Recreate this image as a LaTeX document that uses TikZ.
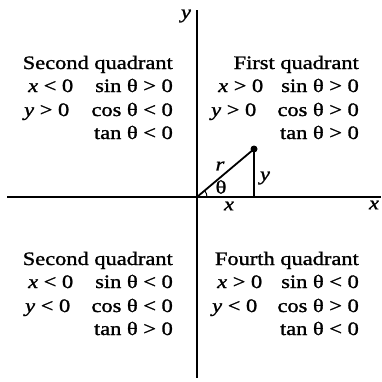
\documentclass[tikz,border=0pt]{standalone}
\usepackage{fontspec}
\setmainfont{Liberation Serif}[FakeBold=1.2,
  UprightFeatures={FakeBold=1.2}, ItalicFeatures={FakeBold=1.2}]
\usepackage{graphicx}
\newcommand{\qtxt}[1]{\scalebox{1.18}[1]{#1}}
\tikzset{
  lbl/.style={font=\fontsize{19}{19}\selectfont, inner sep=0pt},
  axis/.style={line width=2.8pt},
  tri/.style={line width=1.8pt},
}
\begin{document}
\begin{tikzpicture}[x=1pt,y=-1pt]
\useasboundingbox (0,0) rectangle (382,381);
% axes
\coordinate (xl) at (7,197);
\coordinate (xr) at (381,197);
\coordinate (yt) at (197,10);
\coordinate (yb) at (197,378);
\coordinate (O) at (197,197);
\draw[axis] (xl) -- (xr);
\draw[axis] (yt) -- (yb);
\node[lbl] (ylab) at (186,16) {\qtxt{\textit{y}}};
\node[lbl] (xlab) at (374,205) {\qtxt{\textit{x}}};
% triangle
\coordinate (P) at (254,149);
\coordinate (F) at (254,197);
\draw[tri] (O) -- (P) -- (F);
\fill (P) circle (3.5);
\draw[line width=1pt] ([shift={(10,0)}]O) arc[start angle=0, end angle=-40, radius=10];
\node[lbl] (rlab) at (220,166) {\qtxt{\textit{r}}};
\node[lbl] (thlab) at (221,187) {\qtxt{θ}};
\node[lbl] (ylab2) at (265,178) {\qtxt{\textit{y}}};
\node[lbl] (xlab2) at (229,206) {\qtxt{\textit{x}}};
% upper left
\node[lbl, anchor=base east] (t1) at (173,69) {\qtxt{Second quadrant}};
\node[lbl, anchor=base west] (a1) at (28,92) {\qtxt{\textit{x} < 0}};
\node[lbl, anchor=base east] (b1) at (173,92) {\qtxt{sin θ > 0}};
\node[lbl, anchor=base west] (c1) at (24,116) {\qtxt{\textit{y} > 0}};
\node[lbl, anchor=base east] (d1) at (173,116) {\qtxt{cos θ < 0}};
\node[lbl, anchor=base east] (e1) at (173,139) {\qtxt{tan θ < 0}};
% upper right
\node[lbl, anchor=base east] (t2) at (359,69) {\qtxt{First quadrant}};
\node[lbl, anchor=base west] (a2) at (218,92) {\qtxt{\textit{x} > 0}};
\node[lbl, anchor=base east] (b2) at (359,92) {\qtxt{sin θ > 0}};
\node[lbl, anchor=base west] (c2) at (211,116) {\qtxt{\textit{y} > 0}};
\node[lbl, anchor=base east] (d2) at (359,116) {\qtxt{cos θ > 0}};
\node[lbl, anchor=base east] (e2) at (359,139) {\qtxt{tan θ > 0}};
% lower left
\node[lbl, anchor=base east] (t3) at (173,265) {\qtxt{Second quadrant}};
\node[lbl, anchor=base west] (a3) at (28,288) {\qtxt{\textit{x} < 0}};
\node[lbl, anchor=base east] (b3) at (173,288) {\qtxt{sin θ < 0}};
\node[lbl, anchor=base west] (c3) at (25,312) {\qtxt{\textit{y} < 0}};
\node[lbl, anchor=base east] (d3) at (173,312) {\qtxt{cos θ < 0}};
\node[lbl, anchor=base east] (e3) at (173,335) {\qtxt{tan θ > 0}};
% lower right
\node[lbl, anchor=base east] (t4) at (359,265) {\qtxt{Fourth quadrant}};
\node[lbl, anchor=base west] (a4) at (217,288) {\qtxt{\textit{x} > 0}};
\node[lbl, anchor=base east] (b4) at (359,288) {\qtxt{sin θ < 0}};
\node[lbl, anchor=base west] (c4) at (212,312) {\qtxt{\textit{y} < 0}};
\node[lbl, anchor=base east] (d4) at (359,312) {\qtxt{cos θ > 0}};
\node[lbl, anchor=base east] (e4) at (359,335) {\qtxt{tan θ < 0}};
\end{tikzpicture}
\end{document}
